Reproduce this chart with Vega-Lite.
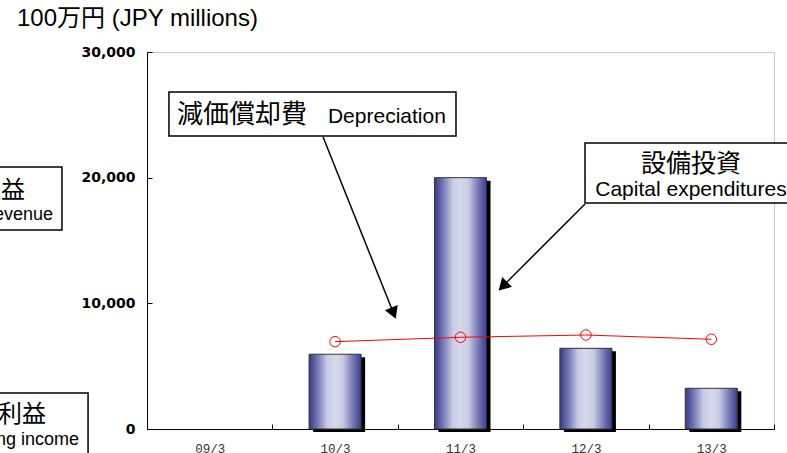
{
  "$schema": "https://vega.github.io/schema/vega-lite/v6.json",
  "width": 627,
  "height": 377,
  "autosize": "none",
  "padding": {"left": 147, "top": 52, "right": 13, "bottom": 24},
  "background": "white",
  "config": {
    "view": {"stroke": "#c8c8c8", "strokeWidth": 1},
    "axis": {"grid": false, "domainColor": "#000000", "tickColor": "#000000", "domainWidth": 1, "tickWidth": 1}
  },
  "title": {
    "text": "100万円 (JPY millions)",
    "anchor": "start",
    "frame": "group",
    "font": "Liberation Sans, Noto Sans CJK JP",
    "fontSize": 24,
    "fontWeight": "normal",
    "color": "#000000",
    "dx": -130,
    "offset": 14
  },
  "datasets": {
    "fin": [
      {"period": "09/3", "capex": null, "dep": null},
      {"period": "10/3", "capex": 5950, "dep": 6950},
      {"period": "11/3", "capex": 20000, "dep": 7300},
      {"period": "12/3", "capex": 6420, "dep": 7480},
      {"period": "13/3", "capex": 3240, "dep": 7140}
    ],
    "boxes": [
      {"box": "dep", "x1": 0.175, "x2": 2.464, "y1": 26818, "y2": 23316},
      {"box": "capex", "x1": 3.493, "x2": 5.207, "y1": 22759, "y2": 17985},
      {"box": "rev", "x1": -1.411, "x2": -0.678, "y1": 20850, "y2": 15836},
      {"box": "inc", "x1": -1.411, "x2": -0.47, "y1": 2865, "y2": -3263}
    ],
    "labels": [
      {"group": "cjkLeft", "text": "減価償却費", "x": 0.239, "y": 24351},
      {"group": "latLeft", "text": "Depreciation", "x": 1.443, "y": 24351},
      {"group": "cjkMid", "text": "設備投資", "x": 4.338, "y": 20450},
      {"group": "latMid", "text": "Capital expenditures", "x": 4.338, "y": 18550},
      {"group": "cjkRight", "text": "営業収益", "x": -0.973, "y": 18383},
      {"group": "latRight", "text": "Operating revenue", "x": -0.75, "y": 16632},
      {"group": "cjkRight", "text": "営業利益", "x": -0.805, "y": 557},
      {"group": "latRight", "text": "Operating income", "x": -0.542, "y": -1273}
    ],
    "arrows": [
      {"arrow": "dep", "x1": 1.404, "y1": 23237, "x2": 1.978, "y2": 8913, "hx": 1.96, "hy": 9359},
      {"arrow": "capex", "x1": 3.493, "y1": 17906, "x2": 2.815, "y2": 11141, "hx": 2.849, "hy": 11475}
    ]
  },
  "layer": [
    {
      "data": {"name": "fin"},
      "encoding": {
        "x": {
          "field": "period", "type": "nominal", "sort": null,
          "scale": {"domain": ["09/3", "10/3", "11/3", "12/3", "13/3"], "paddingInner": 0, "paddingOuter": 0},
          "axis": {"title": null, "labelAngle": 0, "tickBand": "extent", "tickSize": -5, "labelPadding": 18,
                   "labelFont": "Liberation Mono", "labelFontSize": 12.5, "labelColor": "#333333"}
        }
      },
      "layer": [
        {
          "mark": {"type": "bar", "width": {"band": 0.415}, "fill": "#000000", "xOffset": 4, "yOffset": 3, "y2Offset": 3},
          "encoding": {
            "y": {"field": "capex", "type": "quantitative",
                  "scale": {"domain": [0, 30000], "nice": false},
                  "axis": {"title": null, "values": [0, 10000, 20000, 30000], "format": ",d", "tickSize": -5, "labelPadding": 17,
                           "labelFont": "DejaVu Sans", "labelFontWeight": "bold", "labelFontSize": 14, "labelColor": "#000000"}}
          }
        },
        {
          "mark": {"type": "bar", "width": {"band": 0.415}, "stroke": "#333333", "strokeWidth": 1,
                   "fill": {"gradient": "linear", "x1": 0, "x2": 1, "y1": 0, "y2": 0,
                            "stops": [
                              {"offset": 0, "color": "#353a8a"},
                              {"offset": 0.15, "color": "#6e72b0"},
                              {"offset": 0.35, "color": "#c9cbe4"},
                              {"offset": 0.5, "color": "#d6d8ec"},
                              {"offset": 0.65, "color": "#c9cbe4"},
                              {"offset": 0.85, "color": "#7275b2"},
                              {"offset": 1, "color": "#3a3f8e"}
                            ]}},
          "encoding": {"y": {"field": "capex", "type": "quantitative"}}
        },
        {
          "transform": [{"filter": "datum.dep != null"}],
          "mark": {"type": "line", "color": "#ff0000", "strokeWidth": 1},
          "encoding": {"y": {"field": "dep", "type": "quantitative"}}
        },
        {
          "transform": [{"filter": "datum.dep != null"}],
          "mark": {"type": "point", "shape": "circle", "filled": false, "stroke": "#ff0000", "strokeWidth": 1, "size": 110, "opacity": 1},
          "encoding": {"y": {"field": "dep", "type": "quantitative"}}
        }
      ]
    },
    {
      "layer": [
        {
          "data": {"name": "boxes"},
          "mark": {"type": "rect", "fill": "#ffffff", "stroke": "#000000", "strokeWidth": 1.5},
          "encoding": {
            "x": {"field": "x1", "type": "quantitative", "scale": {"domain": [0, 5], "nice": false, "zero": false}, "axis": null},
            "x2": {"field": "x2"},
            "y": {"field": "y1", "type": "quantitative"},
            "y2": {"field": "y2"}
          }
        },
        {
          "data": {"name": "arrows"},
          "mark": {"type": "rule", "color": "#000000", "strokeWidth": 1.5},
          "encoding": {
            "x": {"field": "x1", "type": "quantitative"},
            "x2": {"field": "x2"},
            "y": {"field": "y1", "type": "quantitative"},
            "y2": {"field": "y2"}
          }
        },
        {
          "data": {"name": "arrows"},
          "transform": [{"filter": "datum.arrow == 'dep'"}],
          "mark": {"type": "point", "shape": "triangle", "filled": true, "color": "#000000", "size": 190, "angle": 158, "opacity": 1},
          "encoding": {
            "x": {"field": "hx", "type": "quantitative"},
            "y": {"field": "hy", "type": "quantitative"}
          }
        },
        {
          "data": {"name": "arrows"},
          "transform": [{"filter": "datum.arrow == 'capex'"}],
          "mark": {"type": "point", "shape": "triangle", "filled": true, "color": "#000000", "size": 190, "angle": 225, "opacity": 1},
          "encoding": {
            "x": {"field": "hx", "type": "quantitative"},
            "y": {"field": "hy", "type": "quantitative"}
          }
        },
        {
          "data": {"name": "labels"},
          "transform": [{"filter": "datum.group == 'cjkLeft'"}],
          "mark": {"type": "text", "align": "left", "baseline": "alphabetic", "font": "Noto Sans CJK JP", "fontSize": 26, "color": "#000000"},
          "encoding": {"x": {"field": "x", "type": "quantitative"}, "y": {"field": "y", "type": "quantitative"}, "text": {"field": "text"}}
        },
        {
          "data": {"name": "labels"},
          "transform": [{"filter": "datum.group == 'latLeft'"}],
          "mark": {"type": "text", "align": "left", "baseline": "alphabetic", "font": "Liberation Sans", "fontSize": 21, "color": "#000000"},
          "encoding": {"x": {"field": "x", "type": "quantitative"}, "y": {"field": "y", "type": "quantitative"}, "text": {"field": "text"}}
        },
        {
          "data": {"name": "labels"},
          "transform": [{"filter": "datum.group == 'cjkMid'"}],
          "mark": {"type": "text", "align": "center", "baseline": "alphabetic", "font": "Noto Sans CJK JP", "fontSize": 25, "color": "#000000"},
          "encoding": {"x": {"field": "x", "type": "quantitative"}, "y": {"field": "y", "type": "quantitative"}, "text": {"field": "text"}}
        },
        {
          "data": {"name": "labels"},
          "transform": [{"filter": "datum.group == 'latMid'"}],
          "mark": {"type": "text", "align": "center", "baseline": "alphabetic", "font": "Liberation Sans", "fontSize": 21, "color": "#000000"},
          "encoding": {"x": {"field": "x", "type": "quantitative"}, "y": {"field": "y", "type": "quantitative"}, "text": {"field": "text"}}
        },
        {
          "data": {"name": "labels"},
          "transform": [{"filter": "datum.group == 'cjkRight'"}],
          "mark": {"type": "text", "align": "right", "baseline": "alphabetic", "font": "Noto Sans CJK JP", "fontSize": 24, "color": "#000000"},
          "encoding": {"x": {"field": "x", "type": "quantitative"}, "y": {"field": "y", "type": "quantitative"}, "text": {"field": "text"}}
        },
        {
          "data": {"name": "labels"},
          "transform": [{"filter": "datum.group == 'latRight'"}],
          "mark": {"type": "text", "align": "right", "baseline": "alphabetic", "font": "Liberation Sans", "fontSize": 18, "color": "#000000"},
          "encoding": {"x": {"field": "x", "type": "quantitative"}, "y": {"field": "y", "type": "quantitative"}, "text": {"field": "text"}}
        }
      ]
    }
  ],
  "resolve": {"scale": {"x": "independent"}, "axis": {"x": "independent"}}
}
